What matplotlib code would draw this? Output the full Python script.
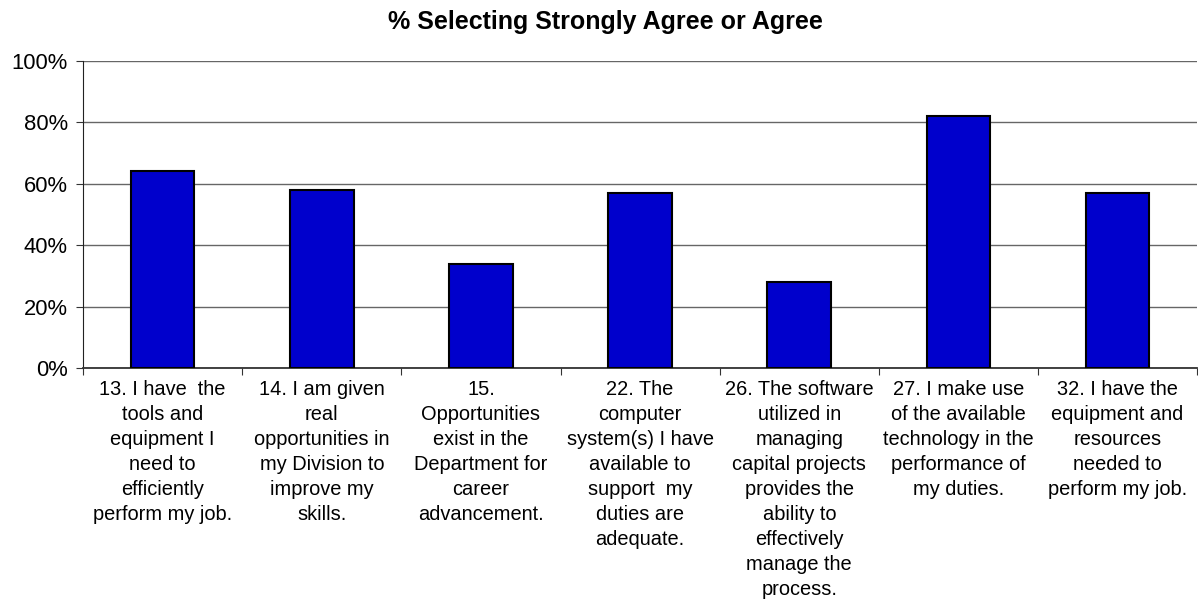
import matplotlib.pyplot as plt
import numpy as np

plt.rcParams['font.family'] = ['Liberation Sans', 'DejaVu Sans']

# Survey items and share answering Strongly Agree / Agree
preguntas = [
    "13. I have  the\ntools and\nequipment I\nneed to\nefficiently\nperform my job.",
    "14. I am given\nreal\nopportunities in\nmy Division to\nimprove my\nskills.",
    "15.\nOpportunities\nexist in the\nDepartment for\ncareer\nadvancement.",
    "22. The\ncomputer\nsystem(s) I have\navailable to\nsupport  my\nduties are\nadequate.",
    "26. The software\nutilized in\nmanaging\ncapital projects\nprovides the\nability to\neffectively\nmanage the\nprocess.",
    "27. I make use\nof the available\ntechnology in the\nperformance of\nmy duties.",
    "32. I have the\nequipment and\nresources\nneeded to\nperform my job.",
]
porcentajes = [64, 58, 34, 57, 28, 82, 57]
ticks_y = [0, 20, 40, 60, 80, 100]

fig = plt.figure(figsize=(11.98, 6.01), dpi=100)
ax = fig.add_axes([0.0693, 0.3877, 0.93, 0.5113])

x = np.arange(len(porcentajes))
ax.bar(x, porcentajes, width=0.4, color='#0000CC', edgecolor='black', linewidth=1.5, zorder=3)

ax.set_xlim(-0.5, len(porcentajes) - 0.5)
ax.set_ylim(0, 100)
ax.set_yticks(ticks_y)
ax.set_yticklabels([f"{v}%" for v in ticks_y], fontsize=15.8)
ax.yaxis.grid(True, color='#666666', linewidth=1, zorder=0)

# category ticks sit between the bars
ax.set_xticks(np.arange(len(porcentajes) + 1) - 0.5, minor=False)
ax.set_xticklabels([])
ax.set_xticks(x, minor=True)
ax.set_xticklabels(preguntas, minor=True, fontsize=14.4, linespacing=1.4)
ax.tick_params(axis='x', which='minor', length=0, pad=9)
ax.tick_params(axis='x', which='major', length=5, direction='out', color='#333333')
ax.tick_params(axis='y', length=5, color='#333333', pad=6)

for s in ['top', 'right']:
    ax.spines[s].set_visible(False)
ax.spines['left'].set_color('#222222')
ax.spines['bottom'].set_color('#333333')
ax.spines['bottom'].set_linewidth(1.3)

fig.text(0.505, 0.963, "% Selecting Strongly Agree or Agree", ha='center', va='center',
         fontsize=18, fontweight='bold')

fig.savefig('out.png', dpi=100)
